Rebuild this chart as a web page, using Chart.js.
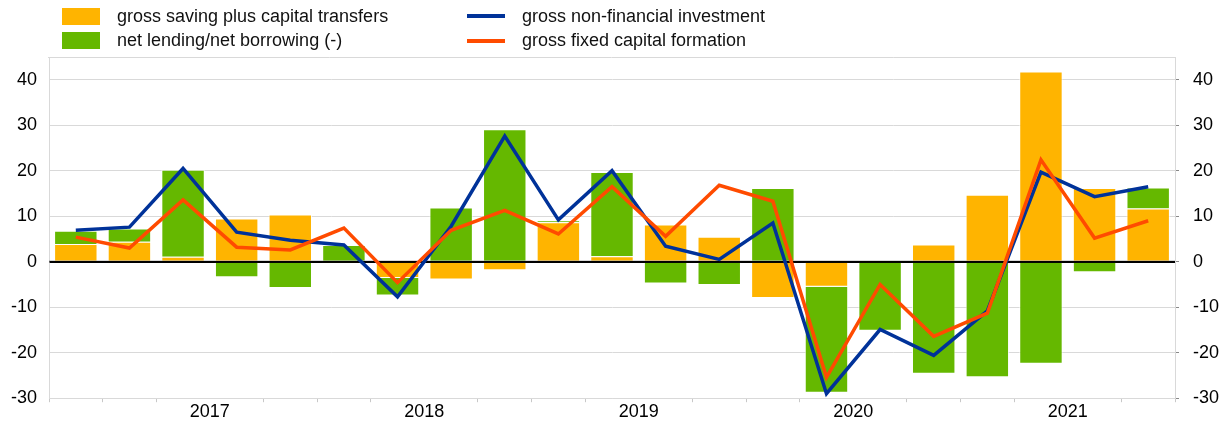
<!DOCTYPE html>
<html>
<head>
<meta charset="utf-8">
<script src="https://cdn.jsdelivr.net/npm/chart.js@4/dist/chart.umd.min.js"></script>
<style>
  body { margin: 0; background: #fff; }
  #wrap { position: relative; width: 1220px; height: 423px; }
  #legend {
    position: absolute; left: 62px; top: 4px;
    display: grid; grid-template-columns: 405px auto; grid-auto-rows: 24.5px;
    font: 18px "Liberation Sans", Arial, sans-serif; color: #111;
  }
  .item { display: flex; align-items: center; white-space: nowrap; }
  .swatch { display: inline-block; width: 38px; margin-right: 17px; }
</style>
</head>
<body>
<div id="wrap">
  <canvas id="chart" width="1220" height="423"></canvas>
  <div id="legend"></div>
</div>
<script>
// quarters 2016Q4 .. 2021Q4
var quarters = ['2016Q4',
  '2017Q1', '2017Q2', '2017Q3', '2017Q4',
  '2018Q1', '2018Q2', '2018Q3', '2018Q4',
  '2019Q1', '2019Q2', '2019Q3', '2019Q4',
  '2020Q1', '2020Q2', '2020Q3', '2020Q4',
  '2021Q1', '2021Q2', '2021Q3', '2021Q4'];

var grossSaving = [3.9, 4.4, 1.1, 9.5, 10.4, -0.3, -3.6, -3.9, -1.9, 8.7, 1.2,
  8.2, 5.5, -8.0, -5.5, 0.2, 3.8, 14.7, 41.8, 16.2, 11.7];
var netLending = [2.9, 2.9, 19.1, -3.4, -5.8, 3.7, -3.8, 11.9, 29.1, 0.4, 18.5,
  -4.8, -5.1, 16.2, -23.3, -15.2, -24.6, -25.4, -22.4, -2.3, 4.6];
var nonFinInvestment = [6.9, 7.6, 20.5, 6.5, 4.7, 3.7, -7.7, 7.8, 27.6, 9.2, 20.0,
  3.4, 0.5, 8.5, -29.0, -14.9, -20.6, -10.8, 19.7, 14.3, 16.5];
var fixedCapital = [5.4, 3.0, 13.6, 3.2, 2.6, 7.4, -4.6, 6.9, 11.3, 6.1, 16.5,
  5.6, 16.8, 13.3, -25.4, -5.0, -16.4, -11.3, 22.4, 5.2, 9.0];

// year labels sit on the boundary in the middle of each year's four quarters
var yearLabels = ['2017', '2018', '2019', '2020', '2021'];
var yearTickPos = [2.5, 6.5, 10.5, 14.5, 18.5];

var yMin = -30, yMax = 45, yStep = 10;

var FONT = '"Liberation Sans", Arial, sans-serif';
var GRID = '#d9d9d9';

// top border of the plot + zero line redrawn over the bars (before the lines)
var zeroLinePlugin = {
  id: 'zeroLine',
  beforeDatasetsDraw: function(chart) {
    var ctx = chart.ctx, a = chart.chartArea;
    ctx.save();
    ctx.strokeStyle = GRID;
    ctx.lineWidth = 1;
    ctx.beginPath();
    ctx.moveTo(a.left - 1, a.top + 0.5);
    ctx.lineTo(a.right, a.top + 0.5);
    ctx.stroke();
    ctx.restore();
  },
  afterDatasetDraw: function(chart, args) {
    if (args.index !== 0) return;
    var ctx = chart.ctx, a = chart.chartArea;
    var y = chart.scales.y.getPixelForValue(0);
    ctx.save();
    ctx.strokeStyle = 'rgba(0,0,0,0.6)';
    ctx.lineWidth = 2;
    ctx.beginPath();
    ctx.moveTo(a.left, y);
    ctx.lineTo(a.right, y);
    ctx.stroke();
    ctx.restore();
  }
};

var chart = new Chart(document.getElementById('chart'), {
  type: 'bar',
  data: {
    labels: quarters,
    datasets: [
      {
        label: 'gross saving plus capital transfers',
        data: grossSaving,
        backgroundColor: '#ffb400',
        borderColor: 'rgba(255,255,255,0.75)',
        borderWidth: 1,
        stack: 'bars',
        order: 2,
        barPercentage: 1,
        categoryPercentage: 0.81
      },
      {
        label: 'net lending/net borrowing (-)',
        data: netLending,
        backgroundColor: '#65b800',
        borderColor: 'rgba(255,255,255,0.75)',
        borderWidth: 1,
        stack: 'bars',
        order: 2,
        barPercentage: 1,
        categoryPercentage: 0.81
      },
      {
        type: 'line',
        label: 'gross non-financial investment',
        data: nonFinInvestment,
        borderColor: '#003299',
        backgroundColor: '#003299',
        borderWidth: 3.5,
        pointRadius: 0,
        tension: 0,
        stack: 'line1',
        order: 1
      },
      {
        type: 'line',
        label: 'gross fixed capital formation',
        data: fixedCapital,
        borderColor: '#ff4b00',
        backgroundColor: '#ff4b00',
        borderWidth: 3.5,
        pointRadius: 0,
        tension: 0,
        stack: 'line2',
        order: 0
      }
    ]
  },
  options: {
    responsive: false,
    animation: false,
    layout: { padding: { top: 57, left: 0, right: 0, bottom: -1.8 } },
    plugins: { legend: { display: false }, tooltip: { enabled: false } },
    scales: {
      x: { display: false, stacked: true, offset: true },
      xYear: {
        type: 'linear',
        position: 'bottom',
        bounds: 'data',
        offset: false,
        min: -0.5,
        max: quarters.length - 0.5,
        afterBuildTicks: function(scale) {
          var t = [];
          for (var i = 0; i <= quarters.length; i++) t.push({ value: i - 0.5 });
          scale.ticks = t;
        },
        grid: {
          offset: false,
          drawOnChartArea: false,
          drawTicks: true,
          tickLength: 4,
          color: function(c) {
            return (c.tick && yearTickPos.indexOf(c.tick.value) >= 0) ? 'rgba(0,0,0,0)' : '#c8c8c8';
          }
        },
        border: { display: true, color: GRID },
        ticks: {
          autoSkip: false,
          maxRotation: 0,
          padding: 0,
          color: '#000',
          font: { family: FONT, size: 18, lineHeight: 1.07 },
          callback: function(value) {
            var k = yearTickPos.indexOf(value);
            return k >= 0 ? yearLabels[k] : '';
          }
        }
      },
      y: {
        stacked: true,
        position: 'left',
        min: yMin,
        max: yMax,
        afterFit: function(scale) { scale.width = 49; },
        grid: {
          drawTicks: false,
          color: function(c) { return c.tick && c.tick.value === 0 ? '#000' : GRID; },
          lineWidth: function(c) { return c.tick && c.tick.value === 0 ? 2 : 1; }
        },
        border: { display: true, color: GRID },
        ticks: {
          stepSize: yStep,
          includeBounds: false,
          padding: 12,
          color: '#000',
          font: { family: FONT, size: 18 }
        }
      },
      y2: {
        position: 'right',
        min: yMin,
        max: yMax,
        afterFit: function(scale) { scale.width = 45; },
        grid: {
          drawOnChartArea: false,
          drawTicks: true,
          tickLength: 4,
          color: '#888'
        },
        border: { display: true, color: GRID },
        ticks: {
          stepSize: yStep,
          includeBounds: false,
          padding: 14,
          color: '#000',
          font: { family: FONT, size: 18 }
        }
      }
    }
  },
  plugins: [zeroLinePlugin]
});

// html legend in two columns: bars left, lines right
var legendEl = document.getElementById('legend');
var sets = chart.data.datasets;
var orderIdx = [0, 2, 1, 3];
orderIdx.forEach(function(i) {
  var ds = sets[i];
  var item = document.createElement('div');
  item.className = 'item';
  var sw = document.createElement('span');
  sw.className = 'swatch';
  if (ds.type === 'line') {
    sw.style.height = '4px';
    sw.style.background = ds.borderColor;
  } else {
    sw.style.height = '17px';
    sw.style.background = ds.backgroundColor;
  }
  var txt = document.createElement('span');
  txt.textContent = ds.label;
  item.appendChild(sw);
  item.appendChild(txt);
  legendEl.appendChild(item);
});
</script>
</body>
</html>
